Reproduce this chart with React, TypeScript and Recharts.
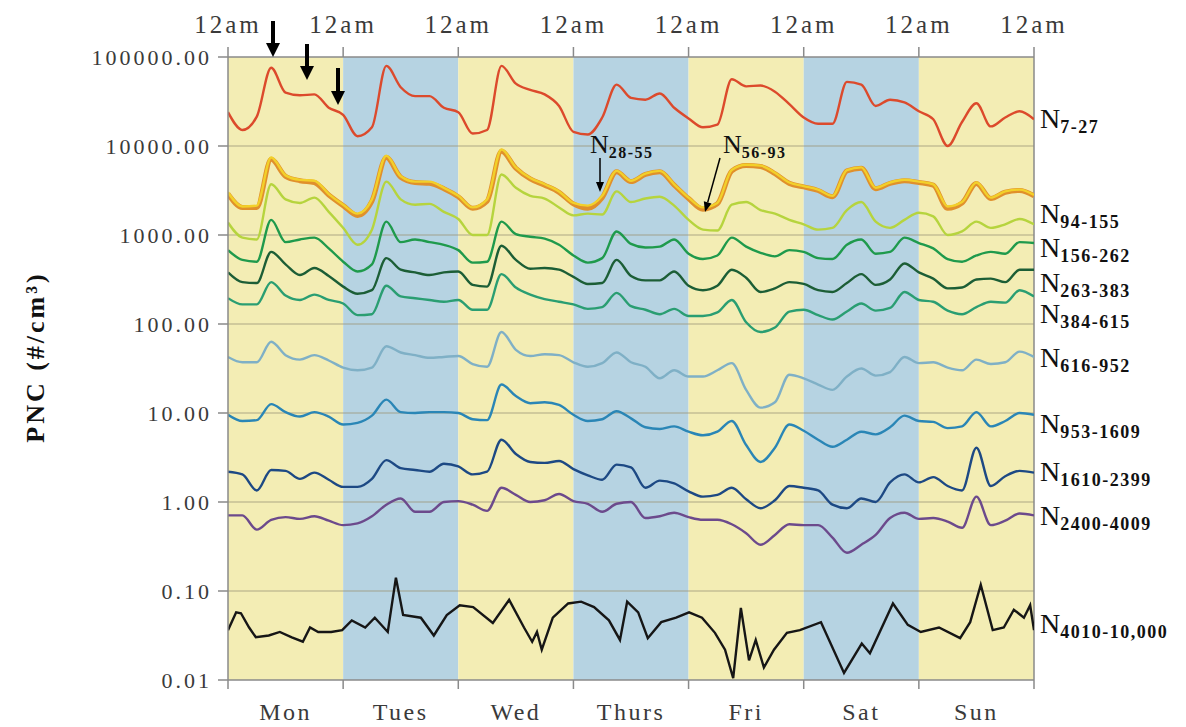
import React from 'react';
import { LineChart, Line, XAxis, YAxis, ReferenceArea, ReferenceLine } from 'recharts';

// time axis in hours from Monday 12am, one reading every 3 h
const HOURS = [0, 3, 6, 9, 12, 15, 18, 21, 24, 27, 30, 33, 36, 39, 42, 45, 48, 51, 54, 57,
  60, 63, 66, 69, 72, 75, 78, 81, 84, 87, 90, 93, 96, 99, 102, 105, 108, 111, 114, 117,
  120, 123, 126, 129, 132, 135, 138, 141, 144, 147, 150, 153, 156, 159, 162, 165, 168];
const DAYS = ['Mon', 'Tues', 'Wed', 'Thurs', 'Fri', 'Sat', 'Sun'];
const DAY_TICKS = [0, 24, 48, 72, 96, 120, 144, 168];
const Y_TICKS = [0.01, 0.1, 1, 10, 100, 1000, 10000, 100000];

// log10 of PNC (#/cm3)
const N7_27 = [4.38, 4.18, 4.33, 4.88, 4.60, 4.57, 4.58, 4.43, 4.35, 4.11, 4.21, 4.90, 4.66, 4.56, 4.56, 4.43, 4.38, 4.14, 4.18, 4.90,
  4.70, 4.63, 4.58, 4.45, 4.16, 4.13, 4.32, 4.69, 4.54, 4.52, 4.59, 4.43, 4.31, 4.21, 4.24, 4.75, 4.67, 4.68, 4.61, 4.47,
  4.32, 4.25, 4.25, 4.72, 4.69, 4.45, 4.52, 4.49, 4.39, 4.30, 4.00, 4.27, 4.48, 4.22, 4.32, 4.39, 4.30];
const N28_55 = [3.46, 3.31, 3.31, 3.85, 3.66, 3.61, 3.59, 3.45, 3.33, 3.22, 3.38, 3.87, 3.65, 3.59, 3.58, 3.52, 3.43, 3.30, 3.38, 3.94,
  3.75, 3.63, 3.56, 3.48, 3.35, 3.30, 3.42, 3.71, 3.60, 3.68, 3.71, 3.56, 3.41, 3.29, 3.35, 3.72, 3.78, 3.77, 3.69, 3.58,
  3.54, 3.50, 3.43, 3.72, 3.75, 3.52, 3.58, 3.61, 3.59, 3.56, 3.30, 3.36, 3.58, 3.41, 3.48, 3.50, 3.44];
const N56_93 = [3.48, 3.32, 3.33, 3.87, 3.67, 3.62, 3.61, 3.46, 3.34, 3.24, 3.40, 3.89, 3.66, 3.60, 3.60, 3.53, 3.44, 3.31, 3.40, 3.96,
  3.76, 3.64, 3.57, 3.49, 3.36, 3.33, 3.44, 3.72, 3.61, 3.69, 3.72, 3.57, 3.42, 3.31, 3.36, 3.73, 3.79, 3.78, 3.70, 3.59,
  3.55, 3.51, 3.44, 3.73, 3.76, 3.53, 3.59, 3.62, 3.60, 3.57, 3.32, 3.37, 3.59, 3.42, 3.49, 3.51, 3.45];
const N94_155 = [3.14, 2.97, 2.95, 3.57, 3.40, 3.36, 3.42, 3.26, 3.08, 2.89, 3.06, 3.60, 3.40, 3.34, 3.35, 3.26, 3.18, 3.00, 3.00, 3.68,
  3.53, 3.44, 3.41, 3.31, 3.22, 3.24, 3.23, 3.49, 3.37, 3.41, 3.43, 3.33, 3.17, 3.06, 3.05, 3.34, 3.37, 3.28, 3.24, 3.17,
  3.12, 3.06, 3.08, 3.28, 3.37, 3.15, 3.08, 3.17, 3.25, 3.21, 3.00, 3.04, 3.15, 3.08, 3.12, 3.18, 3.12];
const N156_262 = [2.83, 2.72, 2.70, 3.17, 2.92, 2.95, 2.97, 2.85, 2.70, 2.59, 2.67, 3.15, 2.92, 2.95, 2.92, 2.89, 2.83, 2.69, 2.70, 3.15,
  3.01, 2.98, 2.96, 2.89, 2.77, 2.69, 2.74, 3.04, 2.90, 2.86, 2.87, 2.95, 2.79, 2.73, 2.77, 2.97, 2.87, 2.80, 2.76, 2.83,
  2.81, 2.74, 2.73, 2.89, 2.95, 2.79, 2.81, 2.97, 2.91, 2.85, 2.73, 2.70, 2.77, 2.81, 2.79, 2.92, 2.91];
const N263_383 = [2.58, 2.47, 2.46, 2.81, 2.67, 2.55, 2.63, 2.54, 2.42, 2.34, 2.38, 2.74, 2.61, 2.58, 2.55, 2.58, 2.59, 2.44, 2.42, 2.88,
  2.72, 2.62, 2.63, 2.61, 2.53, 2.45, 2.46, 2.72, 2.54, 2.49, 2.49, 2.59, 2.43, 2.38, 2.43, 2.61, 2.52, 2.36, 2.40, 2.47,
  2.45, 2.38, 2.36, 2.46, 2.56, 2.44, 2.50, 2.68, 2.58, 2.51, 2.40, 2.41, 2.50, 2.51, 2.47, 2.61, 2.61];
const N384_615 = [2.29, 2.22, 2.22, 2.47, 2.32, 2.27, 2.33, 2.27, 2.23, 2.10, 2.11, 2.43, 2.31, 2.29, 2.27, 2.25, 2.27, 2.16, 2.16, 2.56,
  2.41, 2.33, 2.28, 2.25, 2.22, 2.17, 2.19, 2.35, 2.20, 2.16, 2.11, 2.17, 2.09, 2.09, 2.13, 2.27, 2.02, 1.91, 1.96, 2.14,
  2.16, 2.10, 2.05, 2.14, 2.23, 2.15, 2.18, 2.36, 2.27, 2.25, 2.15, 2.11, 2.19, 2.25, 2.24, 2.38, 2.31];
const N616_952 = [1.63, 1.57, 1.57, 1.80, 1.65, 1.60, 1.65, 1.59, 1.51, 1.48, 1.51, 1.75, 1.68, 1.65, 1.62, 1.63, 1.64, 1.55, 1.52, 1.91,
  1.71, 1.64, 1.66, 1.65, 1.57, 1.52, 1.56, 1.68, 1.57, 1.52, 1.39, 1.48, 1.41, 1.41, 1.48, 1.56, 1.26, 1.06, 1.12, 1.43,
  1.39, 1.32, 1.26, 1.41, 1.50, 1.42, 1.46, 1.63, 1.56, 1.57, 1.51, 1.48, 1.60, 1.55, 1.57, 1.69, 1.63];
const N953_1609 = [0.98, 0.91, 0.92, 1.10, 1.01, 0.96, 1.01, 0.96, 0.87, 0.89, 0.97, 1.15, 1.01, 1.00, 1.01, 1.01, 1.00, 0.93, 0.92, 1.32,
  1.19, 1.11, 1.12, 1.09, 0.98, 0.91, 0.93, 1.02, 0.94, 0.84, 0.82, 0.85, 0.79, 0.75, 0.79, 0.91, 0.64, 0.45, 0.61, 0.87,
  0.80, 0.70, 0.62, 0.70, 0.79, 0.76, 0.84, 0.97, 0.91, 0.90, 0.83, 0.85, 1.01, 0.85, 0.91, 1.00, 0.98];
const N1610_2399 = [0.34, 0.31, 0.13, 0.36, 0.35, 0.26, 0.33, 0.25, 0.17, 0.17, 0.26, 0.47, 0.38, 0.36, 0.34, 0.43, 0.40, 0.31, 0.34, 0.70,
  0.54, 0.45, 0.44, 0.46, 0.37, 0.30, 0.25, 0.42, 0.39, 0.16, 0.24, 0.21, 0.12, 0.06, 0.08, 0.16, 0.03, -0.07, 0.02, 0.18,
  0.16, 0.13, -0.03, -0.07, 0.04, 0.00, 0.22, 0.31, 0.22, 0.28, 0.18, 0.13, 0.61, 0.18, 0.29, 0.35, 0.33];
const N2400_4009 = [-0.15, -0.15, -0.31, -0.20, -0.17, -0.19, -0.16, -0.21, -0.26, -0.24, -0.16, -0.03, 0.04, -0.11, -0.11, 0.00, 0.01, -0.03, -0.10, 0.16,
  0.08, 0.00, 0.02, 0.09, 0.01, -0.02, -0.11, -0.02, 0.00, -0.18, -0.16, -0.12, -0.17, -0.20, -0.20, -0.25, -0.35, -0.48, -0.37, -0.25,
  -0.26, -0.26, -0.40, -0.57, -0.48, -0.37, -0.18, -0.12, -0.19, -0.18, -0.22, -0.29, 0.06, -0.26, -0.21, -0.13, -0.15];

// the largest size class is spiky, so it has its own (uneven) time steps
const BLACK_HOURS = [0, 1.7, 2.7, 4.4, 5.8, 8.5, 10.8, 13.3, 15.6, 17.1, 18.8, 21.5, 23.8, 25.8, 28.6, 30.6, 33.3, 35.0, 36.5, 40.2,
  42.9, 45.6, 48.3, 51.1, 55.2, 58.6, 61.7, 63.4, 64.4, 65.4, 67.7, 70.9, 73.6, 76.3, 79.4, 81.7, 83.2, 85.5, 87.5, 90.3,
  93.4, 96.1, 98.8, 101.5, 103.6, 105.3, 106.9, 108.6, 110.0, 111.7, 113.8, 116.5, 119.2, 123.6, 128.4, 132.1, 133.8, 138.6, 141.7, 144.4,
  148.2, 152.6, 154.7, 156.9, 159.4, 161.7, 163.8, 165.9, 167.2, 168];
const N4010_10000 = [-1.44, -1.24, -1.25, -1.41, -1.52, -1.50, -1.46, -1.52, -1.57, -1.41, -1.46, -1.46, -1.44, -1.33, -1.41, -1.30, -1.46, -0.85, -1.27, -1.30,
  -1.50, -1.27, -1.16, -1.18, -1.36, -1.10, -1.41, -1.57, -1.46, -1.66, -1.30, -1.14, -1.12, -1.18, -1.33, -1.55, -1.12, -1.24, -1.53, -1.35,
  -1.30, -1.24, -1.30, -1.47, -1.66, -1.98, -1.19, -1.78, -1.55, -1.86, -1.66, -1.47, -1.44, -1.35, -1.92, -1.59, -1.70, -1.14, -1.38, -1.46,
  -1.41, -1.53, -1.35, -0.93, -1.44, -1.41, -1.21, -1.30, -1.16, -1.44];

const SERIES = [
  { key: 'n7', sub: '7-27', vals: N7_27, color: '#dc4a2c', width: 2.4 },
  { key: 'n28', sub: '28-55', vals: N28_55, color: '#e0902c', width: 5 },
  { key: 'n56', sub: '56-93', vals: N56_93, color: '#f2d02a', width: 2.4 },
  { key: 'n94', sub: '94-155', vals: N94_155, color: '#b6d43e', width: 2.4 },
  { key: 'n156', sub: '156-262', vals: N156_262, color: '#1f9a4c', width: 2.4 },
  { key: 'n263', sub: '263-383', vals: N263_383, color: '#1c5e36', width: 2.4 },
  { key: 'n384', sub: '384-615', vals: N384_615, color: '#2a9e72', width: 2.4 },
  { key: 'n616', sub: '616-952', vals: N616_952, color: '#7fb0c6', width: 2.4 },
  { key: 'n953', sub: '953-1609', vals: N953_1609, color: '#2a86b6', width: 2.4 },
  { key: 'n1610', sub: '1610-2399', vals: N1610_2399, color: '#1d4984', width: 2.4 },
  { key: 'n2400', sub: '2400-4009', vals: N2400_4009, color: '#6c4a8c', width: 2.4 },
];

const table = HOURS.map((h, i) => {
  const row: Record<string, number> = { h };
  SERIES.forEach(s => { row[s.key] = Math.pow(10, s.vals[i]); });
  return row;
});
const blackTable = BLACK_HOURS.map((h, i) => ({ h, n4010: Math.pow(10, N4010_10000[i]) }));

// layout
const W = 1170;
const H = 719;
const LEFT = 220;
const RIGHT = 144;
const DAY_W = (W - LEFT - RIGHT) / 7;
const FONT = "'Liberation Serif', 'Times New Roman', serif";
const YELLOW = '#f3edb4';
const BLUE = '#b6d3e2';
const AXIS = '#8a8a8a';

// right-hand labels: subscript text and baseline y
const RIGHT_LABELS = [
  { sub: '7-27', y: 120 },
  { sub: '94-155', y: 215 },
  { sub: '156-262', y: 249 },
  { sub: '263-383', y: 284 },
  { sub: '384-615', y: 315 },
  { sub: '616-952', y: 359 },
  { sub: '953-1609', y: 425 },
  { sub: '1610-2399', y: 473 },
  { sub: '2400-4009', y: 517 },
  { sub: '4010-10,000', y: 625 },
];

function arrow(x1: number, y1: number, x2: number, y2: number, w: number, hl: number, hw: number, key: string) {
  const len = Math.hypot(x2 - x1, y2 - y1);
  const dx = (x2 - x1) / len;
  const dy = (y2 - y1) / len;
  const bx = x2 - dx * hl;
  const by = y2 - dy * hl;
  const pts = `${x2},${y2} ${bx - dy * hw},${by + dx * hw} ${bx + dy * hw},${by - dx * hw}`;
  return (
    <g key={key}>
      <line x1={x1} y1={y1} x2={bx} y2={by} stroke="#000" strokeWidth={w} />
      <polygon points={pts} fill="#000" />
    </g>
  );
}

const NLabel = ({ x, y, sub, big = 28, small = 18 }: { x: number; y: number; sub: string; big?: number; small?: number }) => (
  <text x={x} y={y} fontFamily={FONT} fill="#111">
    <tspan fontSize={big}>N</tspan>
    <tspan fontSize={small} fontWeight="bold" dy={5} letterSpacing={1.5}>{sub}</tspan>
  </text>
);

const YTick = (p: any) => (
  <text x={p.x} y={p.y} dy="0.36em" textAnchor="end" fontFamily={FONT} fontSize={22} fill="#3a3a3a" letterSpacing={3}>
    {Number(p.payload.value).toFixed(2)}
  </text>
);

const TopTick = (p: any) => (
  <text x={p.x} y={p.y} textAnchor="middle" fontFamily={FONT} fontSize={25} fill="#3a3a3a" letterSpacing={3}>
    12am
  </text>
);

const DayTick = (p: any) => {
  const i = Math.round(p.payload.value / 24);
  if (i >= DAYS.length) return <g />;
  return (
    <text x={p.x + DAY_W / 2} y={p.y + 29} textAnchor="middle" fontFamily={FONT} fontSize={24} fill="#3a3a3a" letterSpacing={2.5}>
      {DAYS[i]}
    </text>
  );
};

export default function App() {
  return (
    <div style={{ position: 'relative', width: W, height: H, background: '#fff' }}>
      <LineChart width={W} height={H} data={table} margin={{ top: 9, right: RIGHT, bottom: 0, left: 0 }}>
        {DAYS.map((d, i) => (
          <ReferenceArea
            key={d}
            x1={DAY_TICKS[i]}
            x2={DAY_TICKS[i + 1]}
            y1={0.01}
            y2={100000}
            fill={i % 2 === 0 ? YELLOW : BLUE}
            fillOpacity={1}
            stroke="none"
            zIndex={-50}
          />
        ))}
        {Y_TICKS.slice(1, -1).map(t => (
          <ReferenceLine key={t} y={t} stroke="#9c9678" strokeOpacity={0.8} strokeWidth={1} zIndex={-10} />
        ))}
        <ReferenceLine x={168} stroke={AXIS} strokeWidth={1.5} />
        <XAxis
          dataKey="h"
          type="number"
          domain={[0, 168]}
          ticks={DAY_TICKS}
          height={47}
          tickSize={9}
          tickMargin={2}
          axisLine={{ stroke: AXIS, strokeWidth: 1.5 }}
          tickLine={{ stroke: AXIS, strokeWidth: 1.5 }}
          tick={DayTick}
          allowDataOverflow
        />
        <XAxis
          xAxisId="top"
          orientation="top"
          dataKey="h"
          type="number"
          domain={[0, 168]}
          ticks={DAY_TICKS}
          height={40}
          tickSize={10}
          tickMargin={14}
          axisLine={{ stroke: AXIS, strokeWidth: 1.5 }}
          tickLine={{ stroke: AXIS, strokeWidth: 1.5 }}
          tick={TopTick}
        />
        <YAxis
          scale="log"
          type="number"
          domain={[0.01, 100000]}
          ticks={Y_TICKS}
          width={LEFT}
          tickSize={10}
          tickMargin={6}
          axisLine={{ stroke: AXIS, strokeWidth: 1.5 }}
          tickLine={{ stroke: AXIS, strokeWidth: 1.5 }}
          tick={YTick}
          allowDataOverflow
        />
        <Line
          data={blackTable}
          dataKey="n4010"
          type="linear"
          stroke="#161616"
          strokeWidth={2.4}
          dot={false}
          isAnimationActive={false}
        />
        {SERIES.map(s => (
          <Line
            key={s.key}
            dataKey={s.key}
            type="monotone"
            stroke={s.color}
            strokeWidth={s.width}
            dot={false}
            isAnimationActive={false}
          />
        ))}
      </LineChart>
      <svg width={W} height={H} style={{ position: 'absolute', left: 0, top: 0, pointerEvents: 'none' }}>
        <text
          x={27}
          y={349}
          transform="rotate(-90 27 349)"
          textAnchor="middle"
          dominantBaseline="central"
          fontFamily={FONT}
          fontSize={26}
          fontWeight="bold"
          letterSpacing={3}
          fill="#111"
        >
          PNC (#/cm³)
        </text>
        {RIGHT_LABELS.map(l => <NLabel key={l.sub} x={1032} y={l.y} sub={l.sub} />)}
        <NLabel x={582} y={145} sub="28-55" big={26} small={16} />
        <NLabel x={715} y={145} sub="56-93" big={26} small={16} />
        {arrow(592, 150, 592, 184, 1.5, 10, 4, 'a1')}
        {arrow(712, 150, 697, 204, 1.5, 10, 4, 'a2')}
        {arrow(265, 13, 265, 49, 4, 14, 7, 'b1')}
        {arrow(299, 36, 299, 72, 4, 14, 7, 'b2')}
        {arrow(330, 60, 330, 97, 4, 14, 7, 'b3')}
      </svg>
    </div>
  );
}
